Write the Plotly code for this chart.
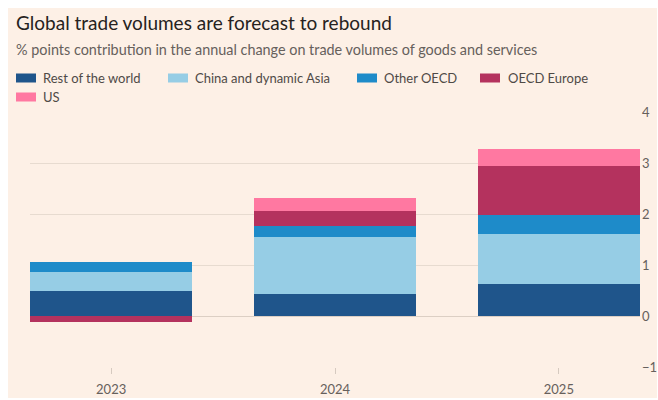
import plotly.graph_objects as go

# ---- data ----
years = ["2023", "2024", "2025"]
rest_of_world = [0.50, 0.43, 0.62]
china_asia = [0.37, 1.11, 0.98]
other_oecd = [0.18, 0.23, 0.39]
oecd_europe = [-0.11, 0.28, 0.96]
us = [0.0, 0.26, 0.33]

series_names = ["Rest of the world", "China and dynamic Asia", "Other OECD", "OECD Europe", "US"]
series_values = [rest_of_world, china_asia, other_oecd, oecd_europe, us]
colors = ["#1F558B", "#96CDE5", "#1E8BC9", "#B4325E", "#FF78A1"]

y_ticks = [-1, 0, 1, 2, 3, 4]

title_text = "Global trade volumes are forecast to rebound"
subtitle_text = "% points contribution in the annual change on trade volumes of goods and services"

BG = "#FDF0E6"
GRID = "#E7DBD0"
FONT = "Lato"

# plot area in pixels
L, R, T, B = 30, 640, 112, 367
W, H = 658, 400


def px(xp):
    return (xp - L) / (R - L)


def py(yp):
    return (B - yp) / (B - T)


fig = go.Figure()
for name, vals, col in zip(series_names, series_values, colors):
    fig.add_trace(go.Bar(
        x=years, y=vals, name=name, marker=dict(color=col, line=dict(width=0)),
        width=0.725, showlegend=False,
    ))

shapes = [
    dict(type="rect", xref="paper", yref="paper", x0=px(8), x1=px(657), y0=py(398), y1=py(8),
         fillcolor=BG, line=dict(width=0), layer="below"),
]
annotations = [
    # cropped fragment of a heading above the chart
    dict(text="g", xref="paper", yref="paper", x=px(3), y=py(3), xanchor="left",
         yanchor="bottom", showarrow=False, font=dict(family=FONT, size=30, color="#222222")),
    dict(text=title_text, xref="paper", yref="paper", x=px(14), y=py(23), xanchor="left",
         yanchor="middle", showarrow=False, font=dict(family=FONT, size=19, color="#262220")),
    dict(text=subtitle_text, xref="paper", yref="paper", x=px(14), y=py(50), xanchor="left",
         yanchor="middle", showarrow=False, font=dict(family=FONT, size=14.4, color="#66605C")),
]

# manual legend
legend_pos = [(16, 41, 78), (168, 193, 78), (357, 382, 78), (480, 506, 78), (16, 41, 97)]
for (sx, tx, cy), name, col in zip(legend_pos, series_names, colors):
    shapes.append(dict(type="rect", xref="paper", yref="paper", x0=px(sx), x1=px(sx + 20),
                       y0=py(cy + 4.5), y1=py(cy - 4.5), fillcolor=col, line=dict(width=0)))
    annotations.append(dict(text=name, xref="paper", yref="paper", x=px(tx), y=py(cy),
                            xanchor="left", yanchor="middle", showarrow=False,
                            font=dict(family=FONT, size=13, color="#4F4A46")))

fig.update_layout(
    width=W, height=H,
    margin=dict(l=L, r=W - R, t=T, b=H - B, pad=0, autoexpand=False),
    paper_bgcolor="white", plot_bgcolor="rgba(0,0,0,0)",
    barmode="relative",
    shapes=shapes, annotations=annotations,
    font=dict(family=FONT, size=13, color="#66605C"),
    xaxis=dict(
        type="category", range=[-0.3625, 2.3625], showgrid=False, zeroline=False,
        showline=False, ticks="outside", ticklen=6, tickcolor="#D6CAC0", tickwidth=1,
        ticklabelstandoff=4, automargin=False,
        tickfont=dict(family=FONT, size=13, color="#66605C"), fixedrange=True,
    ),
    yaxis=dict(
        range=[-1, 4], tickvals=y_ticks, side="right", showgrid=True, gridcolor=GRID,
        gridwidth=1, zeroline=True, zerolinecolor="#DCCFC4", zerolinewidth=1,
        showline=False, ticks="", automargin=False, ticklabelstandoff=1,
        tickfont=dict(family=FONT, size=13, color="#66605C"),
        fixedrange=True,
    ),
    bargap=0,
)

fig.write_html("out.html")
